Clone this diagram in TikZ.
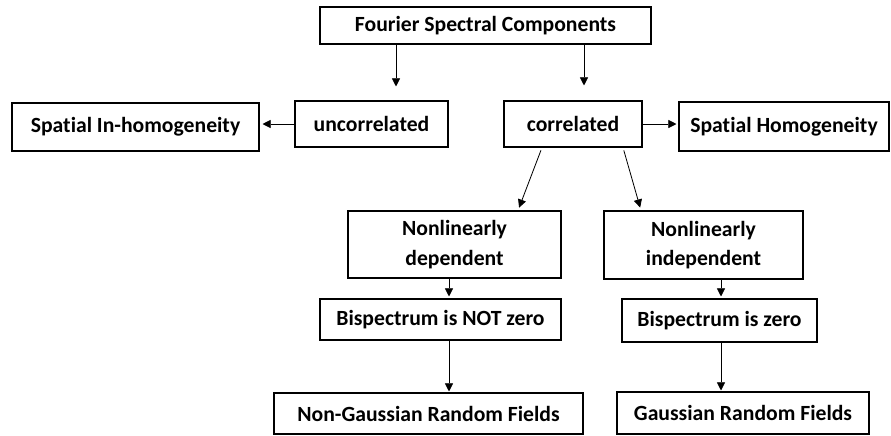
\documentclass[tikz,border=0pt]{standalone}
\usepackage{fontspec}
\setmainfont{Carlito}[Ligatures=NoCommon]
\usepackage{tikz}
\usetikzlibrary{arrows.meta}
\tikzstyle{block}=[draw, line width=0.9pt, inner sep=0pt, align=center, font=\bfseries\fontsize{18.5}{25}\selectfont]
\tikzstyle{flow}=[-{Triangle[width=7pt,length=7pt]}, line width=0.7pt]

\begin{document}
\begin{tikzpicture}[x=0.03cm, y=-0.03cm]
        \useasboundingbox (0,0) rectangle (891,435);
        \coordinate (X1) at (396, 0);
        \coordinate (X2) at (584, 0);
        \coordinate (X3) at (542, 0);
        \coordinate (X4) at (518, 0);
        \coordinate (X5) at (623, 0);
        \coordinate (X6) at (641, 0);
        \coordinate (X7) at (449, 0);
        \coordinate (X8) at (721, 0);
        \node[block, minimum width=9.93cm, minimum height=1.11cm] (F) at (485.5, 25.5) {Fourier Spectral Components};
        \node[block, minimum width=7.41cm, minimum height=1.44cm] (Inh) at (135.5, 127) {Spatial In-homogeneity};
        \node[block, minimum width=4.59cm, minimum height=1.38cm] (Unc) at (371.5, 124) {uncorrelated};
        \node[block, minimum width=4.14cm, minimum height=1.38cm] (Cor) at (573, 124) {correlated};
        \node[block, minimum width=6.30cm, minimum height=1.47cm] (Hom) at (784, 126.5) {Spatial Homogeneity};
        \node[block, minimum width=6.39cm, minimum height=2.01cm] (Dep) at (454.5, 244.5) {Nonlinearly\\dependent};
        \node[block, minimum width=5.97cm, minimum height=2.04cm] (Ind) at (703.5, 245) {Nonlinearly\\independent};
        \node[block, minimum width=7.23cm, minimum height=1.23cm] (BNz) at (440.5, 319.5) {Bispectrum is NOT zero};
        \node[block, minimum width=5.85cm, minimum height=1.29cm] (BZ) at (719.5, 320.5) {Bispectrum is zero};
        \node[block, minimum width=9.27cm, minimum height=1.23cm] (NG) at (428.5, 413.5) {Non-Gaussian Random Fields};
        \node[block, minimum width=7.56cm, minimum height=1.26cm] (G) at (743, 413) {Gaussian Random Fields};
        \draw[flow, shorten >=0.42cm] (F.south -| X1) -- (Unc.north -| X1);
        \draw[flow, shorten >=0.45cm] (F.south -| X2) -- (Cor.north -| X2);
        \draw[flow, shorten >=0.09cm] (Unc.west) -- (Inh.east |- Unc.west);
        \draw[flow, shorten >=0.06cm] (Cor.east) -- (Hom.west |- Cor.east);
        \draw[flow, shorten <=0.09cm, shorten >=0.09cm] (Cor.south -| X3) -- (Dep.north -| X4);
        \draw[flow, shorten <=0.09cm, shorten >=0.09cm] (Cor.south -| X5) -- (Ind.north -| X6);
        \draw[flow, shorten >=0.06cm] (Dep.south -| X7) -- (BNz.north -| X7);
        \draw[flow, shorten >=0.03cm] (BNz.south -| X7) -- (NG.north -| X7);
        \draw[flow, shorten >=0.06cm] (Ind.south -| X8) -- (BZ.north -| X8);
        \draw[flow, shorten >=0.03cm] (BZ.south -| X8) -- (G.north -| X8);
    \end{tikzpicture}
\end{document}
